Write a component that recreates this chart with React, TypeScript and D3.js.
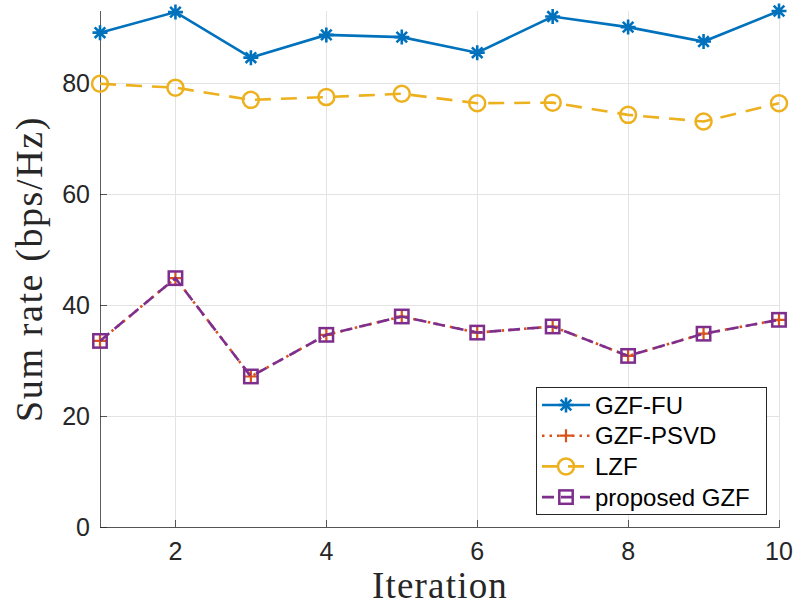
import React, { useEffect, useRef } from 'react';
import * as d3 from 'd3';

// iteration index on the x axis
const iterations = [1, 2, 3, 4, 5, 6, 7, 8, 9, 10];
// sum rate per iteration
const gzfFU = [89.0, 92.7, 84.5, 88.6, 88.2, 85.4, 91.9, 90.0, 87.4, 92.9];
const gzfPSVD = [33.5, 44.8, 27.1, 34.6, 37.9, 35.0, 36.1, 30.8, 34.8, 37.3];
const lzf = [79.8, 79.1, 76.9, 77.4, 78.0, 76.3, 76.4, 74.2, 73.0, 76.3];
const proposedGZF = [33.5, 44.8, 27.1, 34.6, 37.9, 35.0, 36.1, 30.8, 34.8, 37.3];
const seriesNames = ['GZF-FU', 'GZF-PSVD', 'LZF', 'proposed GZF'];
const xTicks = [2, 4, 6, 8, 10];
const yTicks = [0, 20, 40, 60, 80];

const App = () => {
  const chartRef = useRef<SVGSVGElement>(null);

  useEffect(() => {
    const svg = d3.select(chartRef.current);
    svg.selectAll('*').remove();

    const x = d3.scaleLinear().domain([1, 10]).range([100, 779]);
    const y = d3.scaleLinear().domain([0, d3.max(gzfFU) as number]).range([527, 11]);

    const tickFont = 'Liberation Sans, Arial, sans-serif';
    const labelFont = 'Liberation Serif, Times New Roman, serif';
    const axisColor = '#262626';

    // grid
    const grid = svg.append('g');
    grid.selectAll('.gx').data(xTicks).enter().append('line')
      .attr('x1', d => Math.round(x(d)) + 0.5).attr('x2', d => Math.round(x(d)) + 0.5)
      .attr('y1', y.range()[0]).attr('y2', y.range()[1])
      .attr('stroke', '#e3e3e3').attr('stroke-width', 1);
    grid.selectAll('.gy').data(yTicks).enter().append('line')
      .attr('x1', x.range()[0]).attr('x2', x.range()[1])
      .attr('y1', d => Math.round(y(d)) + 0.5).attr('y2', d => Math.round(y(d)) + 0.5)
      .attr('stroke', '#e3e3e3').attr('stroke-width', 1);

    // axes lines
    const ax = svg.append('g');
    ax.append('line')
      .attr('x1', x.range()[0] + 0.5).attr('x2', x.range()[0] + 0.5)
      .attr('y1', y.range()[0]).attr('y2', y.range()[1])
      .attr('stroke', axisColor).attr('stroke-opacity', 0.75);
    ax.append('line')
      .attr('x1', x.range()[0]).attr('x2', x.range()[1] + 1)
      .attr('y1', y.range()[0] + 0.5).attr('y2', y.range()[0] + 0.5)
      .attr('stroke', axisColor).attr('stroke-opacity', 0.75);

    // ticks (inward)
    ax.selectAll('.tx').data(xTicks).enter().append('line')
      .attr('x1', d => Math.round(x(d)) + 0.5).attr('x2', d => Math.round(x(d)) + 0.5)
      .attr('y1', y.range()[0]).attr('y2', y.range()[0] - 7)
      .attr('stroke', axisColor).attr('stroke-opacity', 0.75);
    ax.selectAll('.ty').data(yTicks).enter().append('line')
      .attr('x1', x.range()[0]).attr('x2', x.range()[0] + 7)
      .attr('y1', d => Math.round(y(d)) + 0.5).attr('y2', d => Math.round(y(d)) + 0.5)
      .attr('stroke', axisColor).attr('stroke-opacity', 0.75);

    ax.selectAll('.lx').data(xTicks).enter().append('text')
      .attr('x', d => x(d)).attr('y', y.range()[0] + 32.5)
      .attr('text-anchor', 'middle')
      .attr('font-family', tickFont).attr('font-size', 25).attr('fill', axisColor)
      .text(d => d);
    ax.selectAll('.ly').data(yTicks).enter().append('text')
      .attr('x', x.range()[0] - 10).attr('y', d => y(d) + 9)
      .attr('text-anchor', 'end')
      .attr('font-family', tickFont).attr('font-size', 25).attr('fill', axisColor)
      .text(d => d);

    // axis titles
    svg.append('text')
      .attr('x', 440).attr('y', 598)
      .attr('text-anchor', 'middle')
      .attr('font-family', labelFont).attr('font-size', 37).attr('fill', axisColor)
      .attr('letter-spacing', 1.2)
      .text('Iteration');
    svg.append('text')
      .attr('transform', 'translate(42,269) rotate(-90)')
      .attr('text-anchor', 'middle')
      .attr('font-family', labelFont).attr('font-size', 38).attr('fill', axisColor)
      .attr('letter-spacing', 1.6)
      .text('Sum rate (bps/Hz)');

    // marker drawing
    const drawMarker = (g: any, kind: string, color: string, cx: number, cy: number) => {
      if (kind === 'star') {
        const r = 7.5;
        const d = r * Math.SQRT1_2;
        const p = `M${cx - r},${cy}L${cx + r},${cy}M${cx},${cy - r}L${cx},${cy + r}` +
          `M${cx - d},${cy - d}L${cx + d},${cy + d}M${cx - d},${cy + d}L${cx + d},${cy - d}`;
        g.append('path').attr('d', p).attr('stroke', color).attr('stroke-width', 2.6).attr('fill', 'none');
      } else if (kind === 'plus') {
        const r = 6.5;
        g.append('path').attr('d', `M${cx - r},${cy}L${cx + r},${cy}M${cx},${cy - r}L${cx},${cy + r}`)
          .attr('stroke', color).attr('stroke-width', 2.2).attr('fill', 'none');
      } else if (kind === 'circle') {
        g.append('circle').attr('cx', cx).attr('cy', cy).attr('r', 8)
          .attr('stroke', color).attr('stroke-width', 2.5).attr('fill', 'none');
      } else if (kind === 'square') {
        g.append('rect').attr('x', cx - 6.7).attr('y', cy - 6.7).attr('width', 13.4).attr('height', 13.4)
          .attr('stroke', color).attr('stroke-width', 2.5).attr('fill', 'none');
      }
    };

    const series = [
      { name: seriesNames[0], values: gzfFU, color: '#0072BD', dash: null, marker: 'star' },
      { name: seriesNames[1], values: gzfPSVD, color: '#D95319', dash: '2.5,5', marker: 'plus' },
      { name: seriesNames[2], values: lzf, color: '#EDB120', dash: '16,10', marker: 'circle' },
      { name: seriesNames[3], values: proposedGZF, color: '#7E2F8E', dash: '12,7', marker: 'square' },
    ];

    const line = d3.line<number>()
      .x((d, i) => x(iterations[i]))
      .y(d => y(d));

    series.forEach(s => {
      const g = svg.append('g');
      g.append('path')
        .datum(s.values)
        .attr('fill', 'none')
        .attr('stroke', s.color)
        .attr('stroke-width', 2.6)
        .attr('stroke-dasharray', s.dash)
        .attr('d', line);
      s.values.forEach((v, i) => drawMarker(g, s.marker, s.color, x(iterations[i]), y(v)));
    });

    // legend
    const lg = svg.append('g');
    lg.append('rect')
      .attr('x', 536.5).attr('y', 387.5).attr('width', 230).attr('height', 127)
      .attr('fill', 'white').attr('stroke', axisColor).attr('stroke-width', 1);
    series.forEach((s, i) => {
      const cy = 405 + i * 30.7;
      lg.append('line')
        .attr('x1', 542).attr('x2', 590).attr('y1', cy).attr('y2', cy)
        .attr('stroke', s.color).attr('stroke-width', 2.6)
        .attr('stroke-dasharray', s.dash);
      drawMarker(lg, s.marker, s.color, 566, cy);
      lg.append('text')
        .attr('x', 595).attr('y', cy + 8.5)
        .attr('font-family', tickFont).attr('font-size', 24).attr('fill', '#000')
        .text(s.name);
    });
  }, []);

  return (
    <div>
      <svg ref={chartRef} width={794} height={606}
        style={{ position: 'absolute', left: 0, top: 0, background: 'white' }} />
    </div>
  );
};

export default App;
